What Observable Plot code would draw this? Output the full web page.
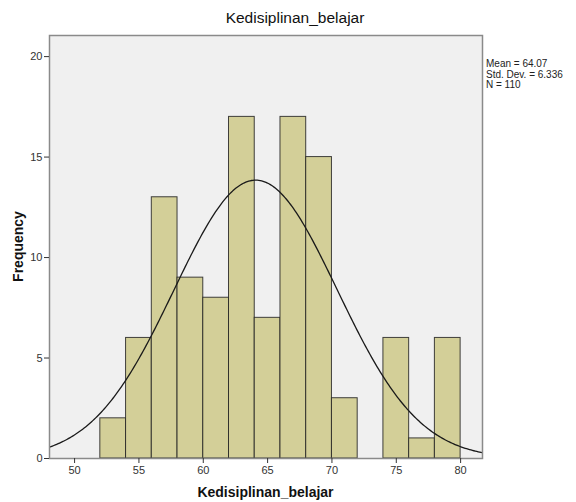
<!DOCTYPE html>
<html>
<head>
<meta charset="utf-8">
<script src="https://cdn.jsdelivr.net/npm/d3@7"></script>
<script src="https://cdn.jsdelivr.net/npm/@observablehq/plot@0.6"></script>
<style>
  html, body { margin: 0; padding: 0; background: #fff; }
  svg { display: block; }
</style>
</head>
<body>
<div id="chart"></div>
<script>
// Histogram bins (lower edge, upper edge) and frequencies
const binStart = [52, 54, 56, 58, 60, 62, 64, 66, 68, 70, 72, 74, 76, 78];
const binEnd   = [54, 56, 58, 60, 62, 64, 66, 68, 70, 72, 74, 76, 78, 80];
const freq     = [2, 6, 13, 9, 8, 17, 7, 17, 15, 3, 0, 6, 1, 6];
const xTicks = [50, 55, 60, 65, 70, 75, 80];
const yTicks = [0, 5, 10, 15, 20];
const statsLines = ["Mean = 64.07", "Std. Dev. = 6.336", "N = 110"];
const mean = 64.07, sd = 6.336, n = 110, binWidth = 2;
const xDomain = [48.05, 81.7];
const yDomain = [0, 21.05];

const bars = binStart.map((s, i) => ({x1: s, x2: binEnd[i], y: freq[i]})).filter(d => d.y > 0);

// Normal curve scaled to the histogram (N * binWidth * pdf), as drawn by SPSS
const curve = d3.range(0, 301).map(i => {
  const x = xDomain[0] + (xDomain[1] - xDomain[0]) * i / 300;
  const z = (x - mean) / sd;
  return {x, y: n * binWidth * Math.exp(-0.5 * z * z) / (sd * Math.sqrt(2 * Math.PI))};
});

const W = 576, H = 502;
const FONT = "'Liberation Sans', Arial, sans-serif";
const chart = Plot.plot({
  width: W, height: H,
  marginLeft: 49, marginRight: 94, marginTop: 35, marginBottom: 44,
  style: {fontFamily: FONT, fontSize: "11px", color: "#222", background: "#fff"},
  x: {domain: xDomain},
  y: {domain: yDomain},
  marks: [
    Plot.frame({fill: "#f0f0f0"}),
    Plot.rectY(bars, {x1: "x1", x2: "x2", y: "y", fill: "#d3cf98", stroke: "#222", strokeWidth: 1, strokeOpacity: 0.85}),
    Plot.line(curve, {x: "x", y: "y", stroke: "#1a1a1a", strokeWidth: 1.3, clip: true}),
    Plot.frame({stroke: "#8a8a8a", strokeWidth: 1.5}),
    Plot.axisX({ticks: xTicks, tickSize: 5, tickPadding: 3, label: null, stroke: "#333", fill: "#333"}),
    Plot.axisY({ticks: yTicks, tickSize: 5, tickPadding: 2, label: null, stroke: "#333", fill: "#333"})
  ]
});
document.getElementById("chart").appendChild(chart);

const svg = d3.select(chart);
const cx = (49 + (W - 94)) / 2;
svg.append("text").attr("x", 295).attr("y", 23).attr("text-anchor", "middle")
  .attr("font-size", 15.5).attr("fill", "#111").attr("font-family", FONT)
  .text("Kedisiplinan_belajar");
svg.append("text").attr("x", cx).attr("y", 497).attr("text-anchor", "middle")
  .attr("font-size", 14).attr("font-weight", "bold").attr("fill", "#111").attr("font-family", FONT)
  .text("Kedisiplinan_belajar");
svg.append("text").attr("transform", `translate(23, ${(35 + 458) / 2}) rotate(-90)`).attr("text-anchor", "middle")
  .attr("font-size", 14).attr("font-weight", "bold").attr("fill", "#111").attr("font-family", FONT)
  .text("Frequency");
const st = svg.append("text").attr("x", 486).attr("y", 67).attr("text-anchor", "start")
  .attr("font-size", 10).attr("fill", "#222").attr("font-family", FONT);
statsLines.forEach((t, i) => st.append("tspan").attr("x", 486).attr("dy", i === 0 ? 0 : 10.5).text(t));
</script>
</body>
</html>
